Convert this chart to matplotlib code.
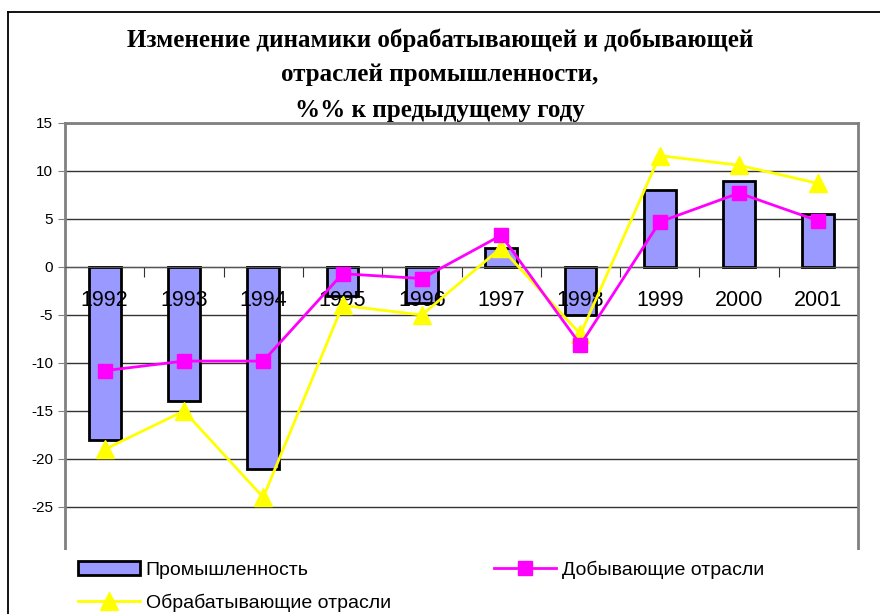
import numpy as np
import matplotlib
matplotlib.use("Agg")
import matplotlib.pyplot as plt
from matplotlib.patches import Rectangle
from matplotlib.lines import Line2D

# ---- данные ----
years = ['1992', '1993', '1994', '1995', '1996', '1997', '1998', '1999', '2000', '2001']
industry = [-18, -14, -21, -3, -3.7, 2, -5, 8, 9, 5.5]          # Промышленность
mining = [-10.8, -9.8, -9.8, -0.7, -1.2, 3.3, -8.1, 4.7, 7.7, 4.8]  # Добывающие отрасли
manufacturing = [-19, -15, -24, -4, -5, 2, -7, 11.6, 10.6, 8.7]  # Обрабатывающие отрасли

yticks = [-30, -25, -20, -15, -10, -5, 0, 5, 10, 15]

title_lines = ['Изменение динамики обрабатывающей и добывающей',
               'отраслей промышленности,',
               '%% к предыдущему году']

plt.rcParams['font.family'] = ['Liberation Sans', 'DejaVu Sans']
plt.rcParams['axes.unicode_minus'] = False

fig = plt.figure(figsize=(8.8, 6.14), dpi=100)
ax = fig.add_axes([65 / 880, 1 - 555 / 614, (858 - 65) / 880, (555 - 123) / 614])

x = np.arange(len(years))

ax.bar(x, industry, width=0.4, color='#9999FF', edgecolor='black', linewidth=2, zorder=2,
       label='Промышленность')
ax.plot(x, manufacturing, color='#FFFF00', lw=2, marker='^', markersize=13, zorder=4,
        label='Обрабатывающие отрасли')
ax.plot(x, mining, color='#FF00FF', lw=2, marker='s', markersize=9.5, zorder=5,
        label='Добывающие отрасли')

# подписи категорий над нулевой линией
for xi, y in zip(x, years):
    ax.text(xi, -3.5, y, ha='center', va='center', fontsize=15.5, zorder=3)

ax.set_xlim(-0.5, 9.5)
ax.set_ylim(-30, 15)
ax.set_yticks(yticks)
ax.tick_params(axis='y', labelsize=11, length=5, color='#808080', direction='out')
ax.yaxis.grid(True, color='#333333', lw=1)
ax.set_axisbelow(True)

ax.set_xticks(np.arange(-0.5, 10, 1))
ax.set_xticklabels([])
ax.spines['bottom'].set_position(('data', 0))
ax.spines['bottom'].set_color('#555555')
ax.tick_params(axis='x', length=7, color='#333333', direction='out')
for s in ['top', 'right', 'left']:
    ax.spines[s].set_color('#808080')
    ax.spines[s].set_linewidth(2)

# заголовок
for i, line in enumerate(title_lines):
    fig.text(0.5, 1 - (40 + i * 35) / 614, line, ha='center', va='center',
             fontsize=18, fontweight='bold', family='Liberation Serif')

# белая область под легенду
fig.patches.append(Rectangle((10 / 880, 0), 860 / 880, 1 - 550 / 614,
                             transform=fig.transFigure, facecolor='white',
                             edgecolor='none', zorder=1))

handles, labels = ax.get_legend_handles_labels()
order = [2, 0, 1]
leg = fig.legend([handles[i] for i in order], [labels[i] for i in order],
                 ncol=2, loc='upper left', bbox_to_anchor=(70 / 880, 1 - 553 / 614),
                 frameon=False, fontsize=14, handlelength=3.2, handletextpad=0.3,
                 columnspacing=5.3, labelspacing=0.75, borderaxespad=0)

# рамка рисунка
fig.add_artist(Line2D([8 / 880, 1], [1 - 12 / 614, 1 - 12 / 614], color='black', lw=1.3,
                      transform=fig.transFigure))
fig.add_artist(Line2D([8 / 880, 8 / 880], [0, 1 - 12 / 614], color='black', lw=1.3,
                      transform=fig.transFigure))

fig.savefig('out.png', dpi=100)
